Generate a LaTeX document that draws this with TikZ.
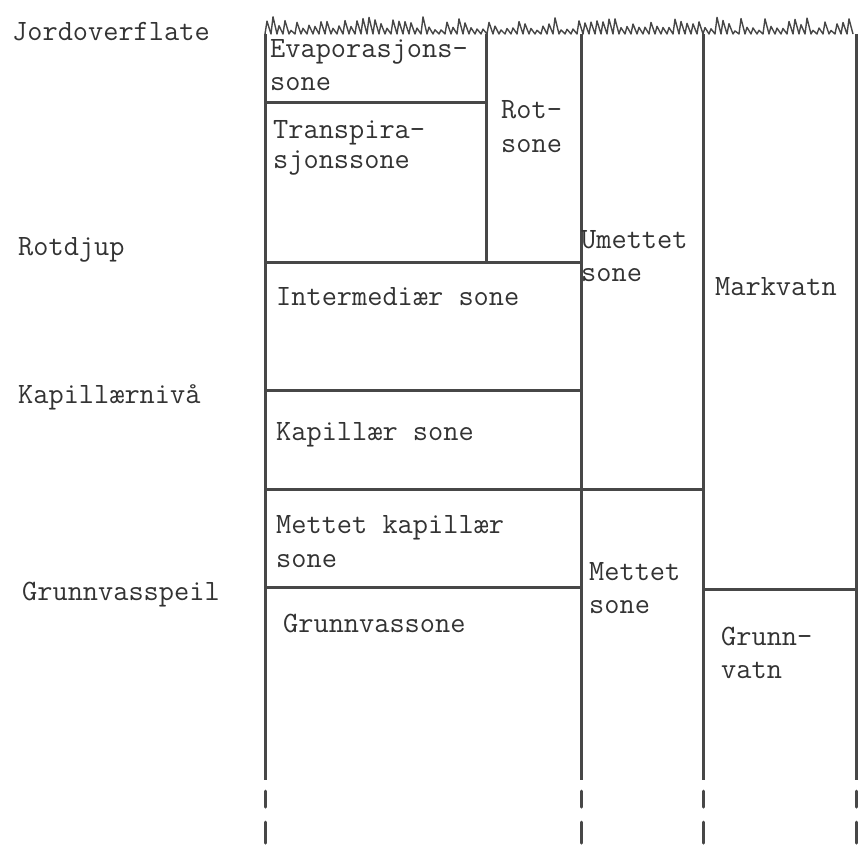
\documentclass[tikz,border=0pt]{standalone}
\usepackage{fontspec}
\newcommand{\zonefont}{\ttfamily\fontsize{29.5}{33}\selectfont}
\tikzset{
  wall/.style={line width=3pt, draw=black!72},
  grass/.style={line width=1.4pt, draw=black!72, line join=round},
  zone/.style={anchor=base west, inner sep=0pt, text=black!80, font=\zonefont},
}
\begin{document}
\begin{tikzpicture}[x=1pt,y=-1pt]
  \useasboundingbox (0,0) rectangle (859,847);
  \pgfmathsetseed{11}

  % ground surface
  \draw[grass] (265,34) \foreach \k [evaluate=\k as \h using {3+15*rnd}] in {1,...,98} { -- ++(2,-\h) -- ++(4,\h) };

  % vertical walls, running on below the chart
  \foreach \x in {265,581,703,856} {
    \draw[wall] (\x,34) -- (\x,780);
    \draw[wall,line cap=round] (\x,791) -- (\x,807);
    \draw[wall,line cap=round] (\x,822) -- (\x,843);
  }
  \draw[wall] (486,34) -- (486,262);

  % horizontal boundaries
  \draw[wall] (265,102) -- (486,102);
  \draw[wall] (265,262) -- (581,262);
  \draw[wall] (265,390) -- (581,390);
  \draw[wall] (265,489) -- (703,489);
  \draw[wall] (265,587) -- (581,587);
  \draw[wall] (703,589) -- (856,589);

  % levels on the left
  \node[zone] (surf) at (12,40) {Jordoverflate};
  \node[zone] (rootdepth) at (18,255) {Rotdjup};
  \node[zone] (caplevel) at (18,403) {Kapillærnivå};
  \node[zone] (gwtable) at (22,600) {Grunnvasspeil};

  % zones
  \node[zone] (evap) at (270,57) {Evaporasjons-};
  \node[zone] (evapb) at (270,90) {sone};
  \node[zone] (transp) at (273,138) {Transpira-};
  \node[zone] (transpb) at (273,168) {sjonssone};
  \node[zone] (root) at (501,118) {Rot-};
  \node[zone] (rootb) at (501,152) {sone};
  \node[zone] (unsat) at (581,248) {Umettet};
  \node[zone] (unsatb) at (581,281) {sone};
  \node[zone] (soilw) at (715,295) {Markvatn};
  \node[zone] (inter) at (276,305) {Intermediær sone};
  \node[zone] (cap) at (276,440) {Kapillær sone};
  \node[zone] (satcap) at (276,533) {Mettet kapillær};
  \node[zone] (satcapb) at (276,567) {sone};
  \node[zone] (gwzone) at (283,632) {Grunnvassone};
  \node[zone] (sat) at (589,580) {Mettet};
  \node[zone] (satb) at (589,613) {sone};
  \node[zone] (gw) at (721,645) {Grunn-};
  \node[zone] (gwb) at (721,678) {vatn};
\end{tikzpicture}
\end{document}
